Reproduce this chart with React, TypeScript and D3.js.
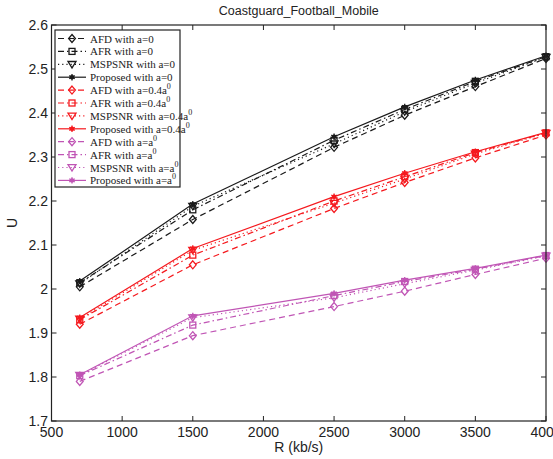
import React from "react";
import * as d3 from "d3";

const rates = [700, 1500, 2500, 3000, 3500, 4000];

const afd0 = [2.005, 2.158, 2.322, 2.395, 2.46, 2.524];
const afr0 = [2.014, 2.18, 2.338, 2.408, 2.472, 2.528];
const msp0 = [2.012, 2.188, 2.33, 2.403, 2.468, 2.527];
const prop0 = [2.018, 2.193, 2.346, 2.414, 2.475, 2.53];

const afd4 = [1.92, 2.055, 2.183, 2.242, 2.298, 2.35];
const afr4 = [1.93, 2.077, 2.2, 2.255, 2.31, 2.355];
const msp4 = [1.932, 2.088, 2.195, 2.25, 2.307, 2.354];
const prop4 = [1.935, 2.092, 2.21, 2.263, 2.312, 2.356];

const afd1 = [1.79, 1.894, 1.96, 1.995, 2.033, 2.07];
const afr1 = [1.803, 1.918, 1.985, 2.017, 2.045, 2.076];
const msp1 = [1.804, 1.935, 1.98, 2.012, 2.043, 2.075];
const prop1 = [1.805, 1.939, 1.99, 2.02, 2.047, 2.077];

const xTicks = [500, 1000, 1500, 2000, 2500, 3000, 3500, 4000];
const yTicks = [1.7, 1.8, 1.9, 2.0, 2.1, 2.2, 2.3, 2.4, 2.5, 2.6];

const BLACK = "#1a1a1a";
const RED = "#f5191e";
const PURPLE = "#c055b5";

type Kind = "afd" | "afr" | "msp" | "prop";
const dashOf: Record<Kind, string> = {
  afd: "6,4",
  afr: "6,3,1.5,3",
  msp: "1.2,3",
  prop: "none",
};

const series: { name: string; sup: boolean; kind: Kind; color: string; values: number[] }[] = [
  { name: "AFD with a=0", sup: false, kind: "afd", color: BLACK, values: afd0 },
  { name: "AFR with a=0", sup: false, kind: "afr", color: BLACK, values: afr0 },
  { name: "MSPSNR with a=0", sup: false, kind: "msp", color: BLACK, values: msp0 },
  { name: "Proposed with a=0", sup: false, kind: "prop", color: BLACK, values: prop0 },
  { name: "AFD with a=0.4a", sup: true, kind: "afd", color: RED, values: afd4 },
  { name: "AFR with a=0.4a", sup: true, kind: "afr", color: RED, values: afr4 },
  { name: "MSPSNR with a=0.4a", sup: true, kind: "msp", color: RED, values: msp4 },
  { name: "Proposed with a=0.4a", sup: true, kind: "prop", color: RED, values: prop4 },
  { name: "AFD with a=a", sup: true, kind: "afd", color: PURPLE, values: afd1 },
  { name: "AFR with a=a", sup: true, kind: "afr", color: PURPLE, values: afr1 },
  { name: "MSPSNR with a=a", sup: true, kind: "msp", color: PURPLE, values: msp1 },
  { name: "Proposed with a=a", sup: true, kind: "prop", color: PURPLE, values: prop1 },
];

const L = 51.5, R = 546, T = 25, B = 421;

function Marker({ kind, color, x, y }: { kind: Kind; color: string; x: number; y: number }) {
  if (kind === "afd") {
    const s = 4;
    return <path d={`M${x},${y - s}L${x + s * 0.85},${y}L${x},${y + s}L${x - s * 0.85},${y}Z`} fill="none" stroke={color} strokeWidth={1.3} />;
  }
  if (kind === "afr") {
    return <rect x={x - 3} y={y - 3} width={6} height={6} fill="none" stroke={color} strokeWidth={1.3} />;
  }
  if (kind === "msp") {
    const s = 4;
    return <path d={`M${x - s},${y - s * 0.7}L${x + s},${y - s * 0.7}L${x},${y + s * 0.9}Z`} fill="none" stroke={color} strokeWidth={1.3} />;
  }
  const p = d3.symbol(d3.symbolAsterisk, 28)();
  return (
    <g transform={`translate(${x},${y})`}>
      <circle r={2.2} fill={color} />
      <path d={p || ""} fill="none" stroke={color} strokeWidth={1.3} />
    </g>
  );
}

export default function App() {
  const x = d3.scaleLinear().domain([500, 4000]).range([L, R]);
  const y = d3.scaleLinear().domain([1.7, 2.6]).range([B, T]);
  const line = d3.line<number>().x((_, i) => x(rates[i])).y((d) => y(d));

  const legX = 55, legY = 30, legW = 125, legH = 157, rowH = 12.9;

  return (
    <svg width={553} height={459} style={{ position: "absolute", left: 0, top: 0, background: "white" }}>
      <rect x={0} y={0} width={553} height={459} fill="white" />
      <text x={(L + R) / 2} y={15} textAnchor="middle" fontFamily="Liberation Sans, Arial, sans-serif" fontSize={12.5} fill="#222">
        Coastguard_Football_Mobile
      </text>

      {series.map((s, i) => (
        <g key={i}>
          <path d={line(s.values) || ""} fill="none" stroke={s.color} strokeWidth={1.2} strokeDasharray={dashOf[s.kind]} />
          {s.values.map((v, j) => (
            <Marker key={j} kind={s.kind} color={s.color} x={x(rates[j])} y={y(v)} />
          ))}
        </g>
      ))}

      <rect x={L} y={T} width={R - L} height={B - T} fill="none" stroke="#222" strokeWidth={1.2} />
      {xTicks.map((t) => (
        <g key={"x" + t}>
          <line x1={x(t)} x2={x(t)} y1={B} y2={B - 5} stroke="#222" />
          <line x1={x(t)} x2={x(t)} y1={T} y2={T + 5} stroke="#222" />
          <text x={x(t)} y={437} textAnchor="middle" fontFamily="Liberation Sans, Arial, sans-serif" fontSize={14} fill="#222">
            {t}
          </text>
        </g>
      ))}
      {yTicks.map((t) => (
        <g key={"y" + t}>
          <line x1={L} x2={L + 5} y1={y(t)} y2={y(t)} stroke="#222" />
          <line x1={R} x2={R - 5} y1={y(t)} y2={y(t)} stroke="#222" />
          <text x={48} y={y(t) + 5} textAnchor="end" fontFamily="Liberation Sans, Arial, sans-serif" fontSize={14} fill="#222">
            {d3.format("")(Math.round(t * 10) / 10)}
          </text>
        </g>
      ))}
      <text x={(L + R) / 2} y={452} textAnchor="middle" fontFamily="Liberation Sans, Arial, sans-serif" fontSize={14} fill="#222">
        R (kb/s)
      </text>
      <text transform={`translate(17,${(T + B) / 2}) rotate(-90)`} textAnchor="middle" fontFamily="Liberation Sans, Arial, sans-serif" fontSize={14} fill="#222">
        U
      </text>

      <rect x={legX} y={legY} width={legW} height={legH} fill="white" stroke="#222" strokeWidth={1.2} />
      {series.map((s, i) => {
        const cy = legY + 8.5 + i * rowH;
        return (
          <g key={"l" + i}>
            <line x1={legX + 3} x2={legX + 31} y1={cy} y2={cy} stroke={s.color} strokeWidth={1.2} strokeDasharray={dashOf[s.kind]} />
            <Marker kind={s.kind} color={s.color} x={legX + 17} y={cy} />
            <text x={legX + 35} y={cy + 4} fontFamily="Liberation Serif, Times New Roman, serif" fontSize={11} fill="#222">
              {s.name}
              {s.sup ? (
                <tspan dy={-5} fontSize={8}>0</tspan>
              ) : null}
            </text>
          </g>
        );
      })}
    </svg>
  );
}
